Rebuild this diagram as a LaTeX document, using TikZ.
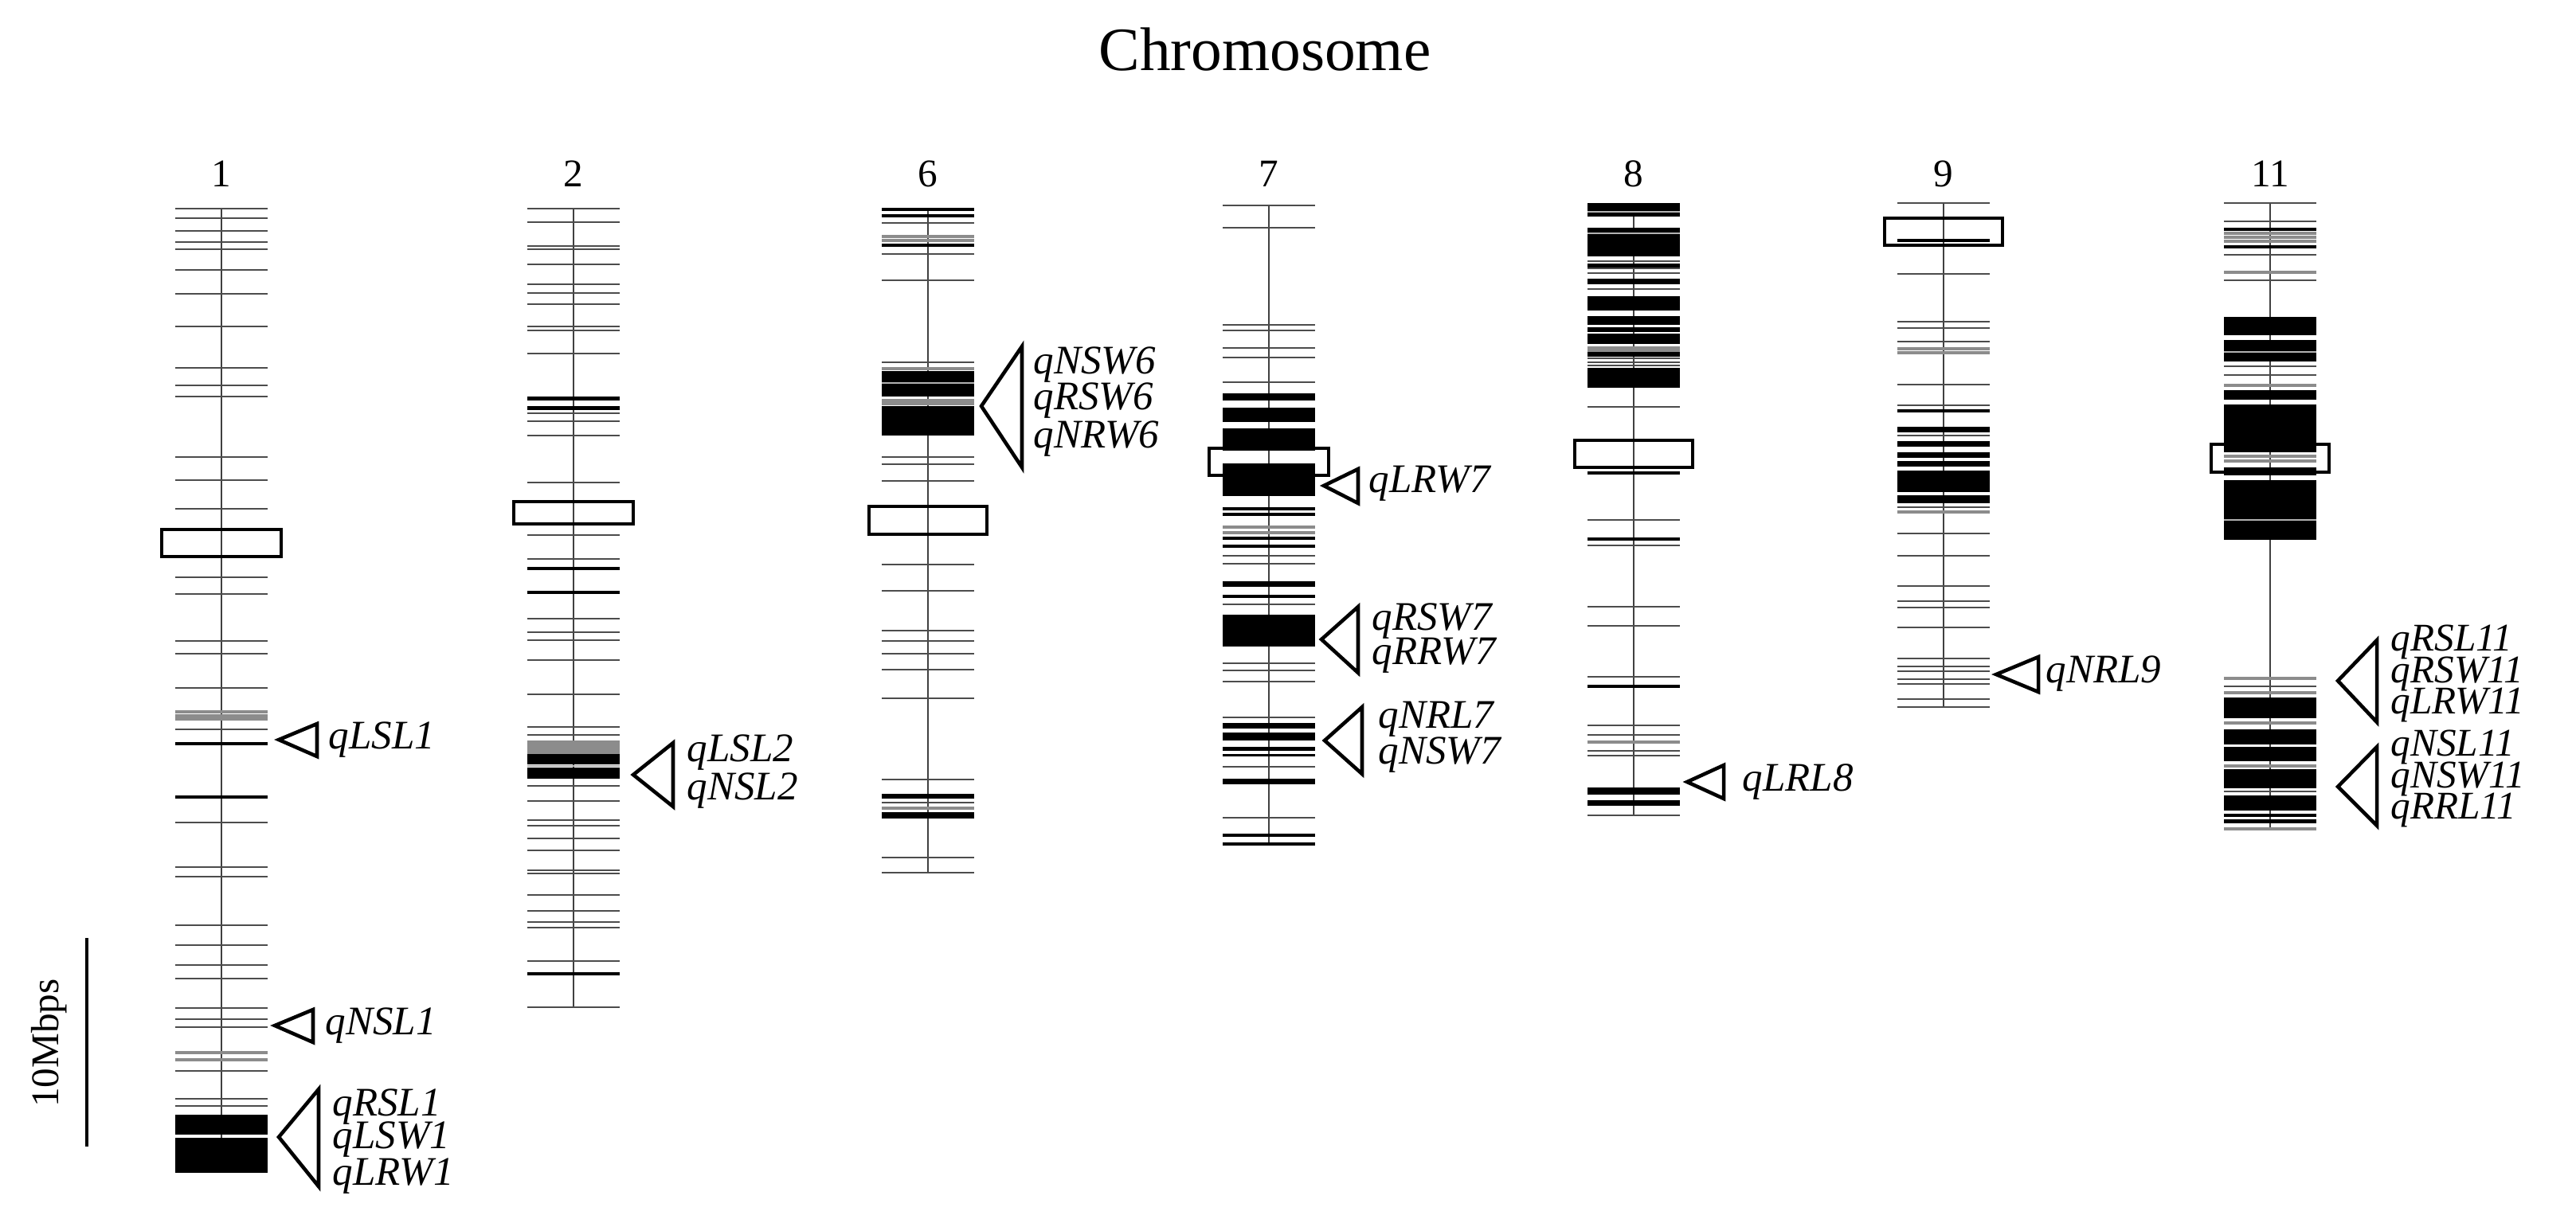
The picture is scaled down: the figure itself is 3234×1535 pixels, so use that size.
\documentclass[tikz,border=0pt]{standalone}
\usepackage{fontspec}
\setmainfont{Liberation Serif}
\usepackage{tikz}
\usetikzlibrary{positioning}

\begin{document}
\begin{tikzpicture}[x=0.01cm, y=-0.01cm,
    axis/.style={draw=black!75, line width=0.6pt},
    band/.style={draw=black!70, line width=0.65pt},
    darkband/.style={draw=black, line width=1pt},
    greyband/.style={draw=black!45, line width=1.1pt},
    gapline/.style={draw=black!30, line width=0.6pt},
    cen/.style={draw=black, line width=0.9pt},
    qtl/.style={draw=black, line width=1.3pt, line join=miter},
    num/.style={font=\fontsize{14}{16}\selectfont},
    qlab/.style={font=\fontsize{14.5}{16}\selectfont\itshape, anchor=west, inner sep=0pt}]
  \useasboundingbox (0,0) rectangle (3234,1535);

  \node[font=\fontsize{22}{26}\selectfont] (title) at (1588,62) {Chromosome};

  % Chromosome 1
  \begin{scope}[shift={(278,0)}]
    \draw[axis] (0,262) -- (0,1473);
    \foreach \y in {262,274,290,304,313,339,369,410,462,484,498,574,603,639,725,746,805,821,864,916,1033,1089,1101,1162,1187,1212,1229,1266,1280,1290,1345,1380,1389}
      \draw[band] (-58,\y) -- (58,\y);
    \foreach \y in {894,899,903,1322,1331} \draw[greyband] (-58,\y) -- (58,\y);
    \foreach \y in {934,1001} \draw[darkband] (-58,\y) -- (58,\y);
    \foreach \a/\b in {1400/1425,1429/1473} \fill (-58,\a) rectangle (58,\b);
    \draw[cen] (-75,665) rectangle (75,699);
  \end{scope}
  \node[num] (n1) at (278,218) {1};

  % Chromosome 2
  \begin{scope}[shift={(720,0)}]
    \draw[axis] (0,262) -- (0,1265);
    \foreach \y in {262,279,309,313,332,357,368,382,410,415,444,519,529,547,606,672,702,777,794,804,829,872,913,923,987,1006,1030,1037,1053,1068,1093,1097,1124,1144,1158,1165,1207,1265}
      \draw[band] (-58,\y) -- (58,\y);
    \foreach \y in {714,744,1223} \draw[darkband] (-58,\y) -- (58,\y);
    \fill[black!45] (-58,930) rectangle (58,947);
    \foreach \a/\b in {498/503,510/515,947/960,964/978} \fill (-58,\a) rectangle (58,\b);
    \draw[gapline] (-58,962) -- (58,962);
    \draw[cen] (-75,630) rectangle (75,658);
  \end{scope}
  \node[num] (n2) at (720,218) {2};

  % Chromosome 6
  \begin{scope}[shift={(1165,0)}]
    \draw[axis] (0,263) -- (0,1096);
    \foreach \y in {280,319,352,455,574,583,604,709,742,792,805,821,841,877,979,1008,1077,1096}
      \draw[band] (-58,\y) -- (58,\y);
    \foreach \y in {297,302,463,503,507,1015} \draw[greyband] (-58,\y) -- (58,\y);
    \foreach \y in {263,271,308} \draw[darkband] (-58,\y) -- (58,\y);
    \foreach \a/\b in {466/498,510/547,997/1003,1020/1028} \fill (-58,\a) rectangle (58,\b);
    \draw[gapline] (-58,481) -- (58,481);
    \draw[cen] (-74,636) rectangle (74,671);
  \end{scope}
  \node[num] (n6) at (1165,218) {6};

  % Chromosome 7
  \begin{scope}[shift={(1593,0)}]
    \draw[axis] (0,258) -- (0,1060);
    \foreach \y in {258,286,408,415,437,449,480,698,708,759,833,842,856,901,963,1027}
      \draw[band] (-58,\y) -- (58,\y);
    \foreach \y in {662,669} \draw[greyband] (-58,\y) -- (58,\y);
    \foreach \y in {639,646,676,686,749,1049,1060} \draw[darkband] (-58,\y) -- (58,\y);
    \foreach \a/\b in {494/503,512/530,538/566,582/623,730/737,772/812,908/915,920/930,938/943,947/950,978/985}
      \fill (-58,\a) rectangle (58,\b);
    \draw[cen] (-75,563) rectangle (75,597);
  \end{scope}
  \node[num] (n7) at (1593,218) {7};

  % Chromosome 8
  \begin{scope}[shift={(2051,0)}]
    \draw[axis] (0,255) -- (0,1024);
    \foreach \y in {328,337,343,363,450,455,459,511,653,685,762,786,850,911,923,943,949,1024}
      \draw[band] (-58,\y) -- (58,\y);
    \foreach \y in {437,440,932} \draw[greyband] (-58,\y) -- (58,\y);
    \foreach \y in {594,677,862} \draw[darkband] (-58,\y) -- (58,\y);
    \foreach \a/\b in {255/272,286/322,331/336,350/357,372/390,397/408,411/417,419/432,442/448,462/487,989/998,1005/1012}
      \fill (-58,\a) rectangle (58,\b);
    \foreach \y in {266,293} \draw[gapline] (-58,\y) -- (58,\y);
    \draw[cen] (-74,553) rectangle (74,587);
  \end{scope}
  \node[num] (n8) at (2051,218) {8};

  % Chromosome 9
  \begin{scope}[shift={(2440,0)}]
    \draw[axis] (0,255) -- (0,888);
    \foreach \y in {255,309,344,404,412,429,483,509,547,637,670,698,736,755,763,788,827,837,843,853,859,878,888}
      \draw[band] (-58,\y) -- (58,\y);
    \foreach \y in {438,443,643} \draw[greyband] (-58,\y) -- (58,\y);
    \foreach \y in {302,516} \draw[darkband] (-58,\y) -- (58,\y);
    \foreach \a/\b in {536/543,554/561,568/575,579/586,591/618,622/632} \fill (-58,\a) rectangle (58,\b);
    \draw[cen] (-74,274) rectangle (74,308);
  \end{scope}
  \node[num] (n9) at (2440,218) {9};

  % Chromosome 11
  \begin{scope}[shift={(2850,0)}]
    \draw[axis] (0,255) -- (0,1041);
    \foreach \y in {255,278,320,352,460,471,862,994}
      \draw[band] (-58,\y) -- (58,\y);
    \foreach \y in {293,298,303,342,484,573,579,852,870,908,962,1041} \draw[greyband] (-58,\y) -- (58,\y);
    \foreach \y in {288,310} \draw[darkband] (-58,\y) -- (58,\y);
    \foreach \a/\b in {398/421,427/454,490/502,508/568,587/597,603/678,876/902,916/935,938/956,966/990,999/1018,1022/1026,1029/1034}
      \fill (-58,\a) rectangle (58,\b);
    \foreach \y in {442,653} \draw[gapline] (-58,\y) -- (58,\y);
    \draw[cen] (-74,558) rectangle (74,593);
  \end{scope}
  \node[num] (n11) at (2850,218) {11};

  % QTL markers
  \draw[qtl] (350,929) -- (398,909) -- (398,950) -- cycle;
  \node[qlab] (qLSL1) at (412,929) {qLSL1};
  \draw[qtl] (345,1288) -- (393,1268) -- (393,1309) -- cycle;
  \node[qlab] (qNSL1) at (408,1288) {qNSL1};
  \draw[qtl] (350,1428) -- (400,1368) -- (400,1490) -- cycle;
  \node[qlab] (qRSL1) at (417,1390) {qRSL1};
  \node[qlab] (qLSW1) at (417,1431) {qLSW1};
  \node[qlab] (qLRW1) at (417,1477) {qLRW1};

  \draw[qtl] (795,973) -- (845,933) -- (845,1013) -- cycle;
  \node[qlab] (qLSL2) at (862,945) {qLSL2};
  \node[qlab] (qNSL2) at (862,993) {qNSL2};

  \draw[qtl] (1232,510) -- (1283,435) -- (1283,587) -- cycle;
  \node[qlab] (qNSW6) at (1297,458) {qNSW6};
  \node[qlab] (qRSW6) at (1297,503) {qRSW6};
  \node[qlab] (qNRW6) at (1297,551) {qNRW6};

  \draw[qtl] (1662,610) -- (1705,589) -- (1705,632) -- cycle;
  \node[qlab] (qLRW7) at (1718,607) {qLRW7};
  \draw[qtl] (1659,803) -- (1705,762) -- (1705,845) -- cycle;
  \node[qlab] (qRSW7) at (1722,780) {qRSW7};
  \node[qlab] (qRRW7) at (1722,823) {qRRW7};
  \draw[qtl] (1663,930) -- (1710,888) -- (1710,972) -- cycle;
  \node[qlab] (qNRL7) at (1730,903) {qNRL7};
  \node[qlab] (qNSW7) at (1730,948) {qNSW7};

  \draw[qtl] (2118,982) -- (2164,961) -- (2164,1003) -- cycle;
  \node[qlab] (qLRL8) at (2187,982) {qLRL8};

  \draw[qtl] (2506,847) -- (2559,825) -- (2559,869) -- cycle;
  \node[qlab] (qNRL9) at (2568,846) {qNRL9};

  \draw[qtl] (2935,855) -- (2984,804) -- (2984,907) -- cycle;
  \node[qlab, font=\fontsize{14}{16}\selectfont\itshape] (qRSL11) at (3001,806) {qRSL11};
  \node[qlab, font=\fontsize{14}{16}\selectfont\itshape] (qRSW11) at (3001,846) {qRSW11};
  \node[qlab, font=\fontsize{14}{16}\selectfont\itshape] (qLRW11) at (3001,885) {qLRW11};
  \draw[qtl] (2935,988) -- (2984,938) -- (2984,1037) -- cycle;
  \node[qlab, font=\fontsize{14}{16}\selectfont\itshape] (qNSL11) at (3001,938) {qNSL11};
  \node[qlab, font=\fontsize{14}{16}\selectfont\itshape] (qNSW11) at (3001,978) {qNSW11};
  \node[qlab, font=\fontsize{14}{16}\selectfont\itshape] (qRRL11) at (3001,1017) {qRRL11};

  % Scale bar
  \coordinate (sbtop) at (109,1178);
  \coordinate (sbbot) at (109,1440);
  \draw[line width=1pt] (sbtop) -- (sbbot);
  \node[num, rotate=90] (sblab) at (62,1310) {10Mbps};
\end{tikzpicture}
\end{document}
